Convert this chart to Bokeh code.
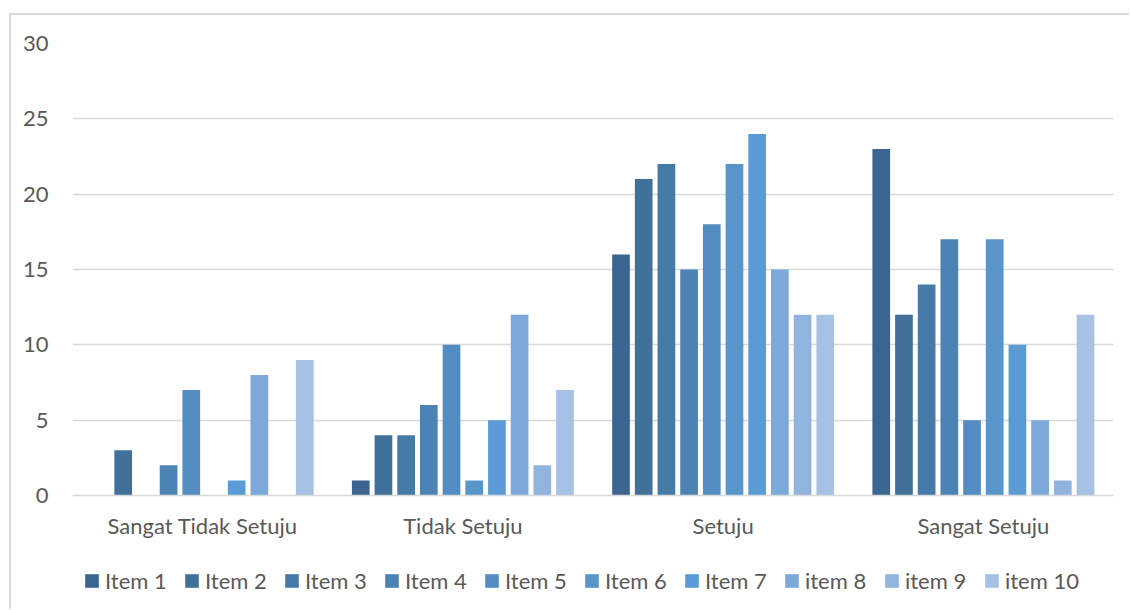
from bokeh.plotting import figure
from bokeh.models import ColumnDataSource, FactorRange, Range1d, Legend, LegendItem
from bokeh.layouts import column
from bokeh.transform import dodge
from bokeh.embed import file_html
from bokeh.resources import INLINE

categories = ["Sangat Tidak Setuju", "Tidak Setuju", "Setuju", "Sangat Setuju"]
series_names = ["Item 1", "Item 2", "Item 3", "Item 4", "Item 5",
                "Item 6", "Item 7", "item 8", "item 9", "item 10"]
item_1 = [0, 1, 16, 23]
item_2 = [3, 4, 21, 12]
item_3 = [0, 4, 22, 14]
item_4 = [2, 6, 15, 17]
item_5 = [7, 10, 18, 5]
item_6 = [0, 1, 22, 17]
item_7 = [1, 5, 24, 10]
item_8 = [8, 12, 15, 5]
item_9 = [0, 2, 12, 1]
item_10 = [9, 7, 12, 12]
series_values = [item_1, item_2, item_3, item_4, item_5,
                 item_6, item_7, item_8, item_9, item_10]
y_ticks = [0, 5, 10, 15, 20, 25, 30]

colors = ["#3B6590", "#41709B", "#467AA7", "#4C83B5", "#528CC2",
          "#5895CB", "#5B9BD5", "#7CA9DA", "#91B4DF", "#A5C1E4"]

data = {"cat": categories}
for i, vals in enumerate(series_values):
    data[f"s{i}"] = vals
source = ColumnDataSource(data)

FONT = "Lato"
TXT = "#595959"
FS = "22px"

p = figure(x_range=FactorRange(*categories, range_padding=0),
           y_range=Range1d(0, 30),
           width=1118, height=541,
           output_backend="svg", toolbar_location=None,
           min_border_left=61, min_border_right=16,
           min_border_top=28, min_border_bottom=61)

step = 0.0872
bw = 0.068
for i, name in enumerate(series_names):
    p.vbar(x=dodge("cat", (i - 4.5) * step, range=p.x_range), top=f"s{i}",
           width=bw, source=source, fill_color=colors[i], line_color=None)

p.outline_line_color = None
p.xgrid.grid_line_color = None
p.ygrid.grid_line_color = "#d9d9d9"
p.ygrid.grid_line_width = 1.5
p.yaxis.ticker = y_ticks
p.yaxis.axis_line_color = None
p.yaxis.major_tick_line_color = None
p.yaxis.minor_tick_line_color = None
p.yaxis.major_tick_out = 0
p.yaxis.major_label_standoff = 24
p.yaxis.major_label_text_font = FONT
p.yaxis.major_label_text_font_size = FS
p.yaxis.major_label_text_color = TXT

p.xaxis.axis_line_color = "#d9d9d9"
p.xaxis.axis_line_width = 1.5
p.xaxis.major_tick_line_color = None
p.xaxis.major_tick_out = 0
p.xaxis.major_label_standoff = 16
p.xaxis.major_label_text_font = FONT
p.xaxis.major_label_text_font_size = FS
p.xaxis.major_label_text_color = TXT

# legend strip (swatch renderers have zero size, off the visible range)
p2 = figure(width=1118, height=53, x_range=Range1d(0, 1), y_range=Range1d(0, 1),
            output_backend="svg", toolbar_location=None,
            min_border_left=61, min_border_right=16,
            min_border_top=0, min_border_bottom=0)
p2.axis.visible = False
p2.grid.grid_line_color = None
p2.outline_line_color = None
items = []
for i, name in enumerate(series_names):
    r = p2.vbar(x=[0.5], top=[-5], bottom=[-5], width=0,
                fill_color=colors[i], line_color=None)
    items.append(LegendItem(label=name, renderers=[r]))

legend = Legend(items=items, orientation="horizontal", location="top_left",
                border_line_color=None, background_fill_alpha=0,
                padding=0, margin=11, spacing=0,
                glyph_width=17, glyph_height=17, label_standoff=5,
                label_width=78,
                label_text_font=FONT, label_text_font_size=FS,
                label_text_color=TXT)
p2.add_layout(legend, "center")

layout = column(p, p2, spacing=0)
layout.styles = {"border-top": "2px solid #d9d9d9", "border-left": "2px solid #d9d9d9",
                 "margin-top": "13px", "margin-left": "9px"}

open("out.html", "w").write(file_html(layout, INLINE))
